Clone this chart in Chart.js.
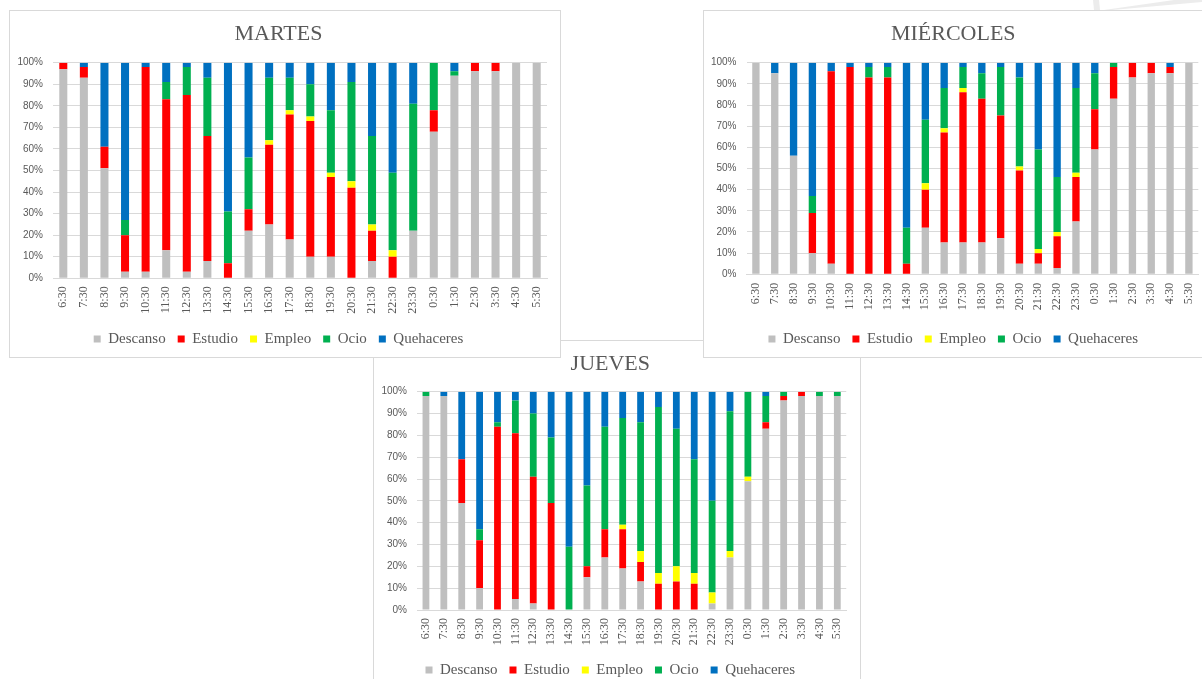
<!DOCTYPE html>
<html>
<head>
<meta charset="utf-8">
<script src="https://cdn.jsdelivr.net/npm/chart.js@4/dist/chart.umd.min.js"></script>
<style>
  html, body { margin: 0; padding: 0; background: #fff; width: 1202px; height: 679px; overflow: hidden; position: relative; }
  .panel { position: absolute; background: #fff; border: 1px solid #d9d9d9; box-sizing: border-box; overflow: hidden; }
  .panel canvas { position: absolute; left: 0; top: 0; }
  #marca { position: absolute; left: 0; top: 0; z-index: 3; pointer-events: none; }
</style>
</head>
<body>
<div class="panel" style="left:373px;top:340px;width:488px;height:350px;z-index:1"><canvas id="cJueves" width="486" height="348"></canvas></div>
<div class="panel" style="left:9px;top:10px;width:552px;height:348px;z-index:2"><canvas id="cMartes" width="550" height="346"></canvas></div>
<div class="panel" style="left:703px;top:10px;width:510px;height:348px;z-index:2"><canvas id="cMiercoles" width="508" height="346"></canvas></div>
<svg id="marca" width="1202" height="40">
  <polygon points="1093,0 1099,0 1100,10 1094,10" fill="#ececec"/>
  <polygon points="1104,10 1202,-4 1202,2 1112,10" fill="#ececec"/>
</svg>
<script>
// Horas del día (franjas de una hora)
const horas = ['6:30','7:30','8:30','9:30','10:30','11:30','12:30','13:30','14:30','15:30','16:30','17:30',
               '18:30','19:30','20:30','21:30','22:30','23:30','0:30','1:30','2:30','3:30','4:30','5:30'];

const actividades = ['Descanso', 'Estudio', 'Empleo', 'Ocio', 'Quehaceres'];
const colores = ['#BFBFBF', '#FF0000', '#FFFF00', '#00B050', '#0070C0'];

// MARTES (% por franja)
const martesDescanso   = [97,93,51,3,3,13,3,8,0,22,25,18,10,10,0,8,0,22,68,94,96,96,100,100];
const martesEstudio    = [3,5,10,17,95,70,82,58,7,10,37,58,63,37,42,14,10,0,10,0,4,4,0,0];
const martesEmpleo     = [0,0,0,0,0,0,0,0,0,0,2,2,2,2,3,3,3,0,0,0,0,0,0,0];
const martesOcio       = [0,0,0,7,0,8,13,27,24,24,29,15,15,29,46,41,36,59,22,2,0,0,0,0];
const martesQuehaceres = [0,2,39,73,2,9,2,7,69,44,7,7,10,22,9,34,51,19,0,4,0,0,0,0];

// MIÉRCOLES (% por franja)
const miercolesDescanso   = [100,95,56,10,5,0,0,0,0,22,15,15,15,17,5,5,3,25,59,83,93,95,95,100];
const miercolesEstudio    = [0,0,0,19,91,98,93,93,5,18,52,71,68,58,44,5,15,21,19,15,7,5,3,0];
const miercolesEmpleo     = [0,0,0,0,0,0,0,0,0,3,2,2,0,0,2,2,2,2,0,0,0,0,0,0];
const miercolesOcio       = [0,0,0,8,0,0,5,5,17,30,19,10,12,23,42,47,26,40,17,2,0,0,0,0];
const miercolesQuehaceres = [0,5,44,63,4,2,2,2,78,27,12,2,5,2,7,41,54,12,5,0,0,0,2,0];

// JUEVES (% por franja)
const juevesDescanso   = [98,98,49,10,0,5,3,0,0,15,24,19,13,0,0,0,3,24,59,83,96,98,98,98];
const juevesEstudio    = [0,0,20,22,84,76,58,49,0,5,13,18,9,12,13,12,0,0,0,3,2,2,0,0];
const juevesEmpleo     = [0,0,0,0,0,0,0,0,0,0,0,2,5,5,7,5,5,3,2,0,0,0,0,0];
const juevesOcio       = [2,0,0,5,2,15,29,30,29,37,47,49,59,76,63,52,42,64,39,12,2,0,2,2];
const juevesQuehaceres = [0,2,31,63,14,4,10,21,71,43,16,12,14,7,17,31,50,9,0,2,0,0,0,0];

const gris = '#595959';
const serif = 'Liberation Serif';

function grafico(id, titulo, series, g) {
  return new Chart(document.getElementById(id), {
    type: 'bar',
    data: {
      labels: horas,
      datasets: actividades.map((nombre, i) => ({
        label: nombre,
        data: series[i],
        backgroundColor: colores[i],
        borderWidth: 0,
        barPercentage: g.bar,
        categoryPercentage: 1
      }))
    },
    options: {
      responsive: false,
      animation: false,
      layout: { padding: { top: 0, left: 0, right: g.padRight, bottom: g.padBottom } },
      plugins: {
        title: {
          display: true, text: titulo, color: gris,
          font: { family: serif, size: 22, weight: 'normal' },
          padding: { top: g.titleTop, bottom: g.titleBottom }
        },
        legend: {
          position: 'bottom',
          labels: { color: gris, font: { family: serif, size: 15 }, boxWidth: 7, boxHeight: 7, padding: 12 }
        },
        tooltip: { enabled: false }
      },
      scales: {
        x: {
          stacked: true,
          grid: { display: false, drawTicks: false },
          border: { display: true, color: '#d9d9d9' },
          ticks: { color: gris, font: { family: serif, size: 12 }, minRotation: 90, maxRotation: 90, padding: g.xPad, autoSkip: false },
          afterFit: s => { s.height = g.xH; }
        },
        y: {
          stacked: true, min: 0, max: 100,
          grid: { color: '#d9d9d9', drawTicks: false },
          border: { display: false },
          ticks: { stepSize: 10, color: gris, font: { family: 'Liberation Sans', size: 10 }, padding: g.yPad, callback: v => v + '%' },
          afterFit: s => { s.width = g.yW; }
        }
      }
    }
  });
}

grafico('cMartes', 'MARTES',
  [martesDescanso, martesEstudio, martesEmpleo, martesOcio, martesQuehaceres],
  { bar: 0.39, padRight: 13, padBottom: 0.5, titleTop: 10, titleBottom: 15.3, xH: 41.2, xPad: 8, yW: 43, yPad: 10 });

grafico('cMiercoles', 'MIÉRCOLES',
  [miercolesDescanso, miercolesEstudio, miercolesEmpleo, miercolesOcio, miercolesQuehaceres],
  { bar: 0.39, padRight: 9.5, padBottom: 0.5, titleTop: 10, titleBottom: 15.3, xH: 45.2, xPad: 8.5, yW: 42.5, yPad: 10 });

grafico('cJueves', 'JUEVES',
  [juevesDescanso, juevesEstudio, juevesEmpleo, juevesOcio, juevesQuehaceres],
  { bar: 0.38, padRight: 13.4, padBottom: 1.5, titleTop: 10, titleBottom: 14.3, xH: 40.5, xPad: 8, yW: 43, yPad: 10 });
</script>
</body>
</html>
